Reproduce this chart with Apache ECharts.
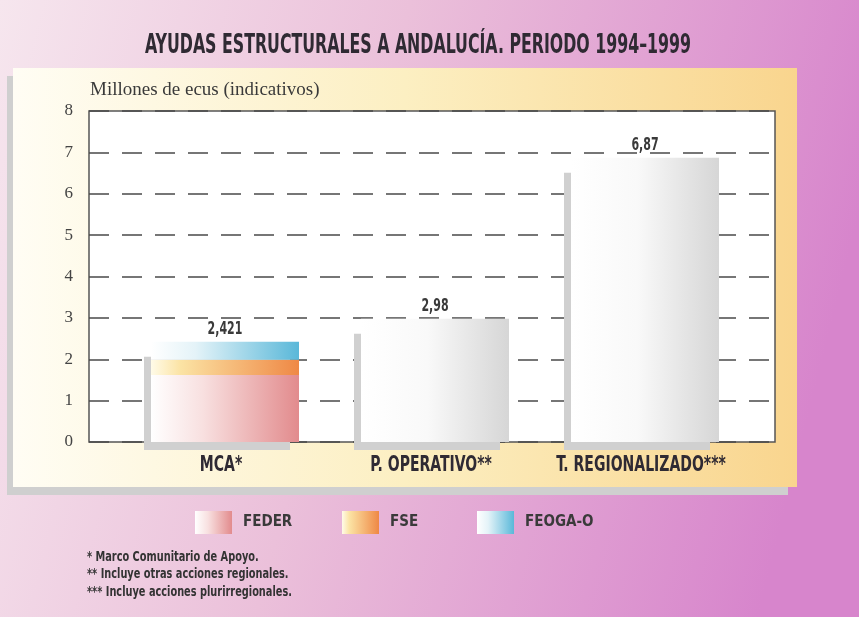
<!DOCTYPE html>
<html>
<head>
<meta charset="utf-8">
<script src="https://cdn.jsdelivr.net/npm/echarts@6/dist/echarts.min.js"></script>
<style>
html,body{margin:0;padding:0;background:#fff;}
#chart{width:859px;height:617px;}
</style>
</head>
<body>
<div id="chart"></div>
<script>
// ---- data ----
const categories = ['MCA*', 'P. OPERATIVO**', 'T. REGIONALIZADO***'];
const feder = [1.62, null, null];
const fse = [0.37, null, null];
const feoga = [0.431, null, null];
const totalOnly = [null, 2.98, 6.87];
const barTotals = [2.421, 2.98, 6.87];
const yTicks = [0, 1, 2, 3, 4, 5, 6, 7, 8];
const legendNames = ['FEDER', 'FSE', 'FEOGA-O'];
const titleText = 'AYUDAS ESTRUCTURALES A ANDALUCÍA. PERIODO 1994–1999';
const axisTitle = 'Millones de ecus (indicativos)';
const footnotes = ['* Marco Comunitario de Apoyo.', '** Incluye otras acciones regionales.', '*** Incluye acciones plurirregionales.'];

const COND = '"Liberation Sans Narrow","DejaVu Sans Condensed","Roboto Condensed",sans-serif';
const SERIF = '"Liberation Serif","DejaVu Serif",serif';
const BAR_W = 148;
const legendLefts = [195, 342, 477];

function grad(stops) {
  return new echarts.graphic.LinearGradient(0, 0, 1, 0, stops.map(s => ({offset: s[0], color: s[1]})));
}
const cFeder = grad([[0, '#ffffff'], [0.35, '#f8e0e0'], [1, '#e28b8d']]);
const cFse = grad([[0, '#fffbe8'], [0.2, '#fbe3a4'], [1, '#ef8845']]);
const cFeoga = grad([[0, '#ffffff'], [0.3, '#e4f3f8'], [1, '#5ab8d9']]);
const cGray = grad([[0, '#ffffff'], [0.45, '#f9f9f9'], [1, '#d6d6d6']]);

function fmt(v) { return String(v).replace('.', ','); }

const chart = echarts.init(document.getElementById('chart'), null, {renderer: 'canvas'});

const option = {
  animation: false,
  graphic: [
    {type: 'rect', z: -10, shape: {x: 0, y: 0, width: 859, height: 617},
     style: {fill: new echarts.graphic.LinearGradient(0, 0, 1, 0.35, [
       {offset: 0, color: '#f6e6ee'}, {offset: 0.45, color: '#ebc0da'}, {offset: 1, color: '#d785cc'}])}},
    {type: 'rect', z: -9, shape: {x: 7, y: 76, width: 781, height: 419}, style: {fill: '#cfcfcf'}},
    {type: 'rect', z: -8, shape: {x: 13, y: 68, width: 784, height: 419},
     style: {fill: new echarts.graphic.LinearGradient(0, 0, 1, 0, [
       {offset: 0, color: '#fffdf4'}, {offset: 0.5, color: '#fcefc2'}, {offset: 1, color: '#f9d58e'}])}},
    {type: 'text', z: 10, x: 418, y: 46, scaleX: 0.65,
     style: {text: titleText, fontFamily: COND, fontWeight: 'bold', fontSize: 27, fill: '#2f2a33',
             textAlign: 'center', textVerticalAlign: 'middle'}},
    {type: 'text', z: 10, x: 90, y: 90,
     style: {text: axisTitle, fontFamily: SERIF, fontSize: 19, fill: '#3a3a3a', textVerticalAlign: 'middle'}},
    ...footnotes.map((t, i) => ({type: 'text', z: 10, x: 87, y: 557 + i * 17.5, scaleX: 0.75,
      style: {text: t, fontFamily: COND, fontWeight: 'bold', fontSize: 14.5, fill: '#333', textVerticalAlign: 'middle'}}))
  ],
  legend: legendNames.map((n, i) => ({
    data: [n], left: legendLefts[i], top: 511, padding: 0, itemWidth: 37, itemHeight: 23, icon: 'rect',
    textStyle: {fontFamily: COND, fontWeight: 'bold', fontSize: 15, color: '#3a3a3a', padding: [0, 0, 0, 6]}
  })),
  grid: [
    {left: 89, right: 84, top: 111, bottom: 175, show: true, backgroundColor: '#ffffff',
     borderColor: '#555', borderWidth: 1.5},
    {left: 120, right: 109, top: 111, bottom: 175}
  ],
  xAxis: [
    {type: 'category', gridIndex: 0, data: categories, show: false},
    {type: 'category', gridIndex: 1, data: categories,
     axisLine: {show: false}, axisTick: {show: false}, axisLabel: {show: false}}
  ],
  yAxis: [
    {type: 'value', gridIndex: 0, min: 0, max: 8, interval: 1,
     axisLine: {show: false}, axisTick: {show: false},
     axisLabel: {margin: 16, fontFamily: SERIF, fontSize: 17, color: '#444',
                 formatter: v => yTicks.indexOf(v) >= 0 ? String(v) : ''},
     splitLine: {show: true, lineStyle: {color: '#4a4a4a', width: 1.5, type: [20, 13]}}},
    {type: 'value', gridIndex: 1, min: 0, max: 8, interval: 1, show: false, splitLine: {show: false}}
  ],
  series: [
    {type: 'custom', xAxisIndex: 1, yAxisIndex: 1, z: 1, silent: true,
     data: barTotals.map((v, i) => [i, v]),
     renderItem: function (params, api) {
       const top = api.coord([api.value(0), api.value(1)]);
       const base = api.coord([api.value(0), 0]);
       const left = top[0] - BAR_W / 2;
       return {type: 'rect', shape: {x: left - 7, y: top[1] + 15, width: BAR_W - 2, height: base[1] + 8 - (top[1] + 15)},
               style: {fill: '#d0d0d0'}};
     }},
    {type: 'custom', xAxisIndex: 1, yAxisIndex: 1, z: 6, silent: true,
     data: barTotals.map((v, i) => [i, v]),
     renderItem: function (params, api) {
       const i = api.value(0);
       const top = api.coord([i, api.value(1)]);
       const base = api.coord([i, 0]);
       return {type: 'group', children: [
         {type: 'text', x: top[0], y: top[1] - 12, scaleX: 0.72,
          style: {text: fmt(barTotals[i]), fontFamily: COND, fontWeight: 'bold', fontSize: 17, fill: '#3a3a3a',
                  textAlign: 'center', textVerticalAlign: 'middle'}},
         {type: 'text', x: top[0] - 4, y: base[1] + 24, scaleX: 0.76,
          style: {text: categories[i], fontFamily: COND, fontWeight: 'bold', fontSize: 20.5, fill: '#2f2a33',
                  textAlign: 'center', textVerticalAlign: 'middle'}}
       ]};
     }},
    {name: 'FEDER', type: 'bar', xAxisIndex: 1, yAxisIndex: 1, stack: 'a', barWidth: BAR_W, z: 3,
     data: feder, itemStyle: {color: cFeder}},
    {name: 'FSE', type: 'bar', xAxisIndex: 1, yAxisIndex: 1, stack: 'a', barWidth: BAR_W, z: 3,
     data: fse, itemStyle: {color: cFse}},
    {name: 'FEOGA-O', type: 'bar', xAxisIndex: 1, yAxisIndex: 1, stack: 'a', barWidth: BAR_W, z: 3,
     data: feoga, itemStyle: {color: cFeoga}},
    {name: 'Total', type: 'bar', xAxisIndex: 1, yAxisIndex: 1, stack: 'a', barWidth: BAR_W, z: 3,
     data: totalOnly, itemStyle: {color: cGray}}
  ]
};
chart.setOption(option);
</script>
</body>
</html>
